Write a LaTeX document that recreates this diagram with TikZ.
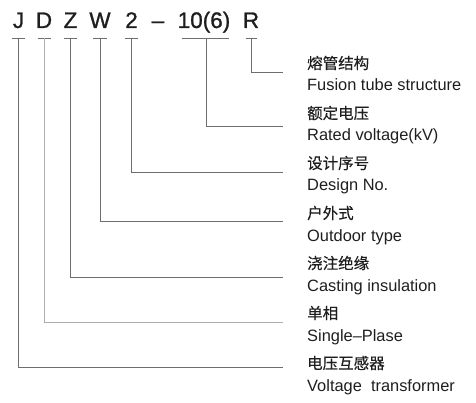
\documentclass[tikz,border=0pt]{standalone}
\usepackage{fontspec}
\setmainfont{Liberation Sans}
\newfontfamily\cjk[FakeBold=0.3]{Noto Sans CJK SC}
\newfontfamily\headfont[FakeBold=1]{Liberation Sans}
\definecolor{ink}{HTML}{1E1E1E}
\definecolor{darkln}{HTML}{6E6E6E}
\definecolor{lightln}{HTML}{AEAEAE}
\begin{document}
\begin{tikzpicture}[x=1pt,y=-1pt,
  head/.style={font=\headfont\fontsize{22.5}{22.5}\selectfont, text=ink, inner sep=0pt, anchor=base},
  zh/.style={font=\cjk\fontsize{15.5}{15.5}\selectfont, text=ink, inner sep=0pt, anchor=west},
  en/.style={font=\fontsize{16.4}{16.4}\selectfont, text=ink, inner sep=0pt, anchor=base west},
  lead/.style={line width=1pt, draw=darkln},
  leadlight/.style={line width=1pt, draw=lightln},
  bar/.style={line width=0.8pt, draw=darkln}]
\useasboundingbox (0,0) rectangle (476,403);
% code letters
\node[head] (J) at (18.5,28) {J};
\node[head] (D) at (44,28) {D};
\node[head] (Z) at (70.5,28) {Z};
\node[head] (W) at (100,28) {W};
\node[head] (two) at (131.5,28) {2};
\node[head] (dash) at (158,28) {–};
\node[head] (ten) at (204,28) {10(6)};
\node[head] (R) at (251,28) {R};
% bar coordinates
\coordinate (jb) at (18,38);
\coordinate (db) at (44,38);
\coordinate (zb) at (70,38);
\coordinate (wb) at (100,38);
\coordinate (tb) at (131,38);
\coordinate (xb) at (206,38);
\coordinate (rb) at (251,38);
% end coordinates
\coordinate (rend) at (283,73);
\coordinate (xend) at (283,127);
\coordinate (tend) at (283,173);
\coordinate (wend) at (283,222);
\coordinate (zend) at (283,277);
\coordinate (dend) at (283,322);
\coordinate (jend) at (283,367);
% short bars
\draw[bar] ([xshift=-6.5pt]jb) -- ([xshift=6.5pt]jb);
\draw[bar] ([xshift=-6.5pt]db) -- ([xshift=6.5pt]db);
\draw[bar] ([xshift=-6.5pt]zb) -- ([xshift=6.5pt]zb);
\draw[bar] ([xshift=-7pt]wb) -- ([xshift=7pt]wb);
\draw[bar] ([xshift=-6.5pt]tb) -- ([xshift=6.5pt]tb);
\draw[bar] ([xshift=-24pt]xb) -- ([xshift=23pt]xb);
\draw[bar] ([xshift=-5.5pt]rb) -- ([xshift=5.5pt]rb);
% leaders
\draw[lead] (rb) |- (rend);
\draw[lead] (xb) |- (xend);
\draw[lead] (tb) |- (tend);
\draw[lead] (wb) |- (wend);
\draw[lead] (zb) |- (zend);
\draw[leadlight] (db) |- (dend);
\draw[lead] (jb) |- (jend);
% labels
\node[zh] (l1) at (307,63) {熔管结构};
\node[en] (e1) at (307,91) {Fusion tube structure};
\node[zh] (l2) at (307,113) {额定电压};
\node[en] (e2) at (307,141) {Rated voltage(kV)};
\node[zh] (l3) at (307,163) {设计序号};
\node[en] (e3) at (307,191) {Design No.};
\node[zh] (l4) at (307,213) {户外式};
\node[en] (e4) at (307,241) {Outdoor type};
\node[zh] (l5) at (307,263) {浇注绝缘};
\node[en] (e5) at (307,291) {Casting insulation};
\node[zh] (l6) at (307,313) {单相};
\node[en] (e6) at (307,341) {Single–Plase};
\node[zh] (l7) at (307,363) {电压互感器};
\node[en] (e7) at (307,391) {Voltage\ \ transformer};
\end{tikzpicture}
\end{document}
